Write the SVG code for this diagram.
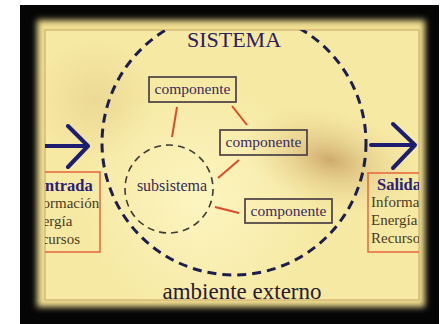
<svg xmlns="http://www.w3.org/2000/svg" width="448" height="324" viewBox="0 0 448 324">
<defs>
<filter id="glow" x="-10%" y="-10%" width="120%" height="120%"><feGaussianBlur stdDeviation="3"/></filter>
<radialGradient id="blob" cx="330" cy="160" r="90" gradientUnits="userSpaceOnUse" gradientTransform="translate(330 160) rotate(15) scale(1 0.55) translate(-330 -160)">
<stop offset="0" stop-color="#c8a064" stop-opacity="0.85"/>
<stop offset="0.45" stop-color="#d8b878" stop-opacity="0.45"/>
<stop offset="1" stop-color="#e8d090" stop-opacity="0"/>
</radialGradient>
<radialGradient id="light" cx="200" cy="200" r="120" gradientUnits="userSpaceOnUse">
<stop offset="0" stop-color="#fdf6c4" stop-opacity="0.9"/>
<stop offset="1" stop-color="#fdf6c4" stop-opacity="0"/>
</radialGradient>
<radialGradient id="blob2" cx="95" cy="100" r="60" gradientUnits="userSpaceOnUse">
<stop offset="0" stop-color="#dcc080" stop-opacity="0.4"/>
<stop offset="1" stop-color="#dcc080" stop-opacity="0"/>
</radialGradient>
<clipPath id="clip"><rect x="45" y="30" width="374" height="270"/></clipPath>
<style>
text{font-family:"Liberation Serif","DejaVu Serif","Times New Roman",serif}
.comp rect{fill:none;stroke:#4a4044;stroke-width:1.7}
.comp text{font-size:15.5px;fill:#3a2a5c;text-anchor:middle}
.red{stroke:#e0482a;stroke-width:2;fill:none}
.arrow{stroke:#1c1c70;stroke-width:4;fill:none;stroke-linecap:round;stroke-linejoin:round}
.io rect{fill:none;stroke:#e8643a;stroke-width:1.5}
.io .t{font-size:16.5px;font-weight:bold;fill:#2a1e78}
.io .l{font-size:15px;fill:#4a3a20}
</style>
</defs>
<rect x="0" y="0" width="448" height="324" fill="#ffffff"/>
<rect x="20" y="5" width="419" height="319" fill="#050505"/>
<rect x="37" y="20" width="388" height="287" fill="#f0de90" filter="url(#glow)"/>
<rect x="45" y="30" width="374" height="270" fill="#f6e9a4"/>
<rect x="45" y="30" width="374" height="270" fill="url(#blob2)"/>
<rect x="45" y="30" width="374" height="270" fill="url(#light)"/>
<rect x="45" y="30" width="374" height="270" fill="url(#blob)"/>
<rect x="45" y="30" width="374" height="270" fill="none" stroke="#cdb070" stroke-width="1.2"/>
<g clip-path="url(#clip)">
<g id="sistema">
<ellipse cx="234" cy="143" rx="132" ry="132" fill="none" stroke="#1e1e4e" stroke-width="3" stroke-dasharray="9 6"/>
<text x="234" y="47" font-family="Liberation Serif, DejaVu Serif, serif" font-size="22" fill="#2a2060" text-anchor="middle">SISTEMA</text>
</g>
<g id="connectors">
<line class="red" x1="177" y1="107" x2="172" y2="137"/>
<line class="red" x1="232" y1="106" x2="247" y2="125"/>
<line class="red" x1="239" y1="160" x2="218" y2="178"/>
<line class="red" x1="215" y1="207" x2="239" y2="213"/>
<path class="arrow" d="M40 146 H87 M68 126 L88 146 L68 167"/>
<path class="arrow" d="M371 145 H414 M393 124 L415 145 L393 168"/>
</g>
<g id="subsistema">
<circle cx="169" cy="189" r="44" fill="none" stroke="#3c3c34" stroke-width="1.6" stroke-dasharray="7 5"/>
<text x="172" y="191" font-family="Liberation Serif, DejaVu Serif, serif" font-size="16" fill="#3a2a50" text-anchor="middle">subsistema</text>
</g>
<g id="comp1" class="comp">
<rect x="149" y="77" width="87" height="25"/>
<text x="192.5" y="94" font-family="Liberation Serif, DejaVu Serif, serif">componente</text>
</g>
<g id="comp2" class="comp">
<rect x="220" y="130" width="87" height="25"/>
<text x="263.5" y="147" font-family="Liberation Serif, DejaVu Serif, serif">componente</text>
</g>
<g id="comp3" class="comp">
<rect x="245" y="199" width="87" height="24"/>
<text x="288.5" y="215.5" font-family="Liberation Serif, DejaVu Serif, serif">componente</text>
</g>
<g id="entrada" class="io" font-family="Liberation Serif, DejaVu Serif, serif">
<rect x="25" y="172" width="75" height="80"/>
<text class="t" x="34" y="191">Entrada</text>
<text class="l" x="25" y="208">Información</text>
<text class="l" x="26" y="226">Energía</text>
<text class="l" x="25" y="244">Recursos</text>
</g>
<g id="salida" class="io" font-family="Liberation Serif, DejaVu Serif, serif">
<rect x="368" y="173" width="70" height="79"/>
<text class="t" x="377" y="190">Salida</text>
<text class="l" x="371" y="207">Información</text>
<text class="l" x="371" y="225">Energía</text>
<text class="l" x="371" y="243">Recursos</text>
</g>
</g>
<g id="ambiente">
<text x="242" y="299" font-family="Liberation Serif, DejaVu Serif, serif" font-size="23" fill="#2a1a30" text-anchor="middle">ambiente externo</text>
</g>
</svg>
